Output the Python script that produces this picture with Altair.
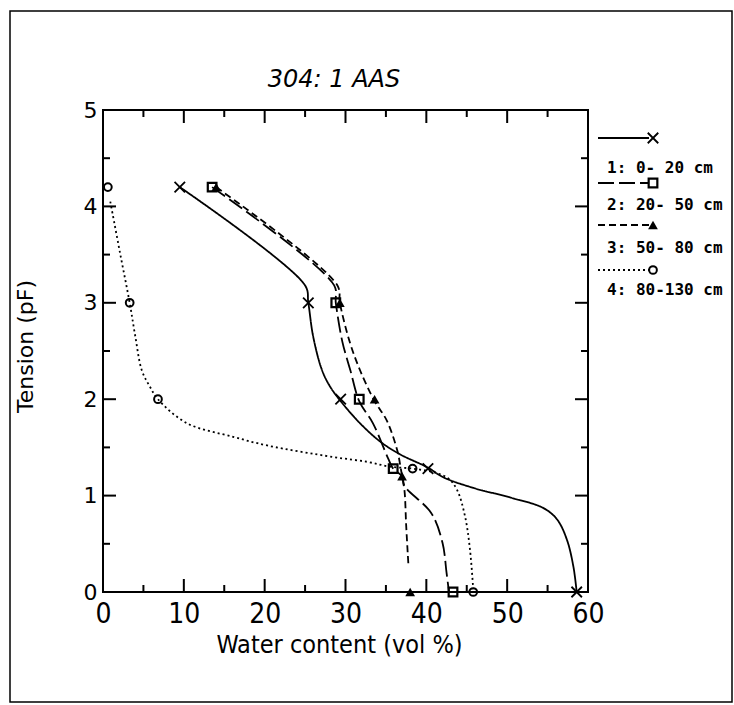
import altair as alt
import pandas as pd

# ---------------- data (water content vol %, tension pF) ----------------
title_text = ["304: 1 AAS"]
labels = ["1:  0- 20 cm", "2: 20- 50 cm", "3: 50- 80 cm", "4: 80-130 cm"]

# measured points
p1_x = [9.5, 25.4, 29.4, 40.2, 58.6]
p1_y = [4.2, 3.0, 2.0, 1.28, 0.0]
p2_x = [13.5, 28.8, 31.7, 35.9, 43.3]
p2_y = [4.2, 3.0, 2.0, 1.28, 0.0]
p3_x = [14.0, 29.3, 33.6, 37.0, 38.0]
p3_y = [4.2, 3.0, 2.0, 1.2, 0.0]
p4_x = [0.6, 3.3, 6.8, 38.3, 45.8]
p4_y = [4.2, 3.0, 2.0, 1.28, 0.0]

# fitted curves
c1_x = [9.5, 25.0, 25.4, 26.0, 27.1, 28.1, 29.4, 31.8, 34.3, 36.7, 40.2, 42.1, 45.8, 50.4, 54.5, 56.2, 57.4, 58.2, 58.6]
c1_y = [4.2, 3.18, 3.0, 2.65, 2.3, 2.13, 1.98, 1.75, 1.56, 1.43, 1.29, 1.19, 1.08, 0.98, 0.87, 0.75, 0.54, 0.26, 0.0]
c2_x = [13.5, 28.6, 28.8, 29.6, 30.6, 31.7, 33.4, 35.3, 35.9, 37.0, 37.3, 40.6, 42.0, 42.5, 42.8]
c2_y = [4.2, 3.18, 3.0, 2.6, 2.3, 1.98, 1.75, 1.38, 1.28, 1.2, 1.1, 0.82, 0.51, 0.2, 0.0]
c3_x = [14.0, 29.0, 29.3, 30.5, 31.8, 33.6, 35.1, 36.4, 36.8, 37.0, 37.3, 37.5, 37.7, 37.8]
c3_y = [4.2, 3.18, 3.0, 2.6, 2.3, 1.98, 1.78, 1.47, 1.3, 1.2, 1.05, 0.7, 0.4, 0.26]
c4_x = [0.9, 2.1, 3.3, 4.0, 4.8, 5.8, 6.8, 10.4, 16.1, 20.3, 28.5, 32.7, 35.5, 38.3, 41.0, 42.7, 43.8, 44.8, 45.4, 45.8]
c4_y = [4.05, 3.52, 3.0, 2.65, 2.3, 2.13, 2.0, 1.75, 1.61, 1.52, 1.4, 1.35, 1.3, 1.28, 1.24, 1.18, 1.06, 0.78, 0.44, 0.03]

x_major = [0, 10, 20, 30, 40, 50, 60]
x_minor = [5, 15, 25, 35, 45, 55]
y_major = [0, 1, 2, 3, 4, 5]
y_minor = [0.5, 1.5, 2.5, 3.5, 4.5]

# ---------------- styles ----------------
W, H = 485, 482
narrow = "Liberation Sans Narrow, DejaVu Sans Condensed, Liberation Sans, sans-serif"
xs = alt.Scale(domain=[0, 60], nice=False, zero=False)
ys = alt.Scale(domain=[0, 5], nice=False, zero=False)

x_axis = alt.Axis(values=x_major, ticks=False, domain=False, grid=False, labelFlush=False,
                  labelFont=narrow, labelFontSize=28, labelPadding=8, labelColor="black",
                  title="Water content (vol %)", titleFont=narrow, titleFontSize=25,
                  titleFontWeight="normal", titleColor="black",
                  titleBaseline="alphabetic", titleY=60, titleX=236)
y_axis = alt.Axis(values=y_major, ticks=False, domain=False, grid=False, labelFlush=False,
                  labelFont="DejaVu Sans", labelFontSize=22, labelPadding=6, labelColor="black",
                  title="Tension (pF)", titleFont="DejaVu Sans", titleFontSize=22,
                  titleFontWeight="normal", titleColor="black",
                  titleBaseline="alphabetic", titleX=-71, titleY=236, titleAngle=-90)


def X():
    return alt.X("wc:Q", scale=xs, axis=x_axis, title="Water content (vol %)")


def Y():
    return alt.Y("pf:Q", scale=ys, axis=y_axis, title="Tension (pF)")


dashes = [[1, 0], [16, 5], [7, 4], [2, 3]]
curves = [(c1_x, c1_y), (c2_x, c2_y), (c3_x, c3_y), (c4_x, c4_y)]
points = [(p1_x, p1_y), (p2_x, p2_y), (p3_x, p3_y), (p4_x, p4_y)]
xshape = "M-1,-1L1,1M-1,1L1,-1"
markers = [
    dict(shape=xshape, filled=False, size=110, strokeWidth=1.8),
    dict(shape="square", filled=False, size=75, strokeWidth=2.2),
    dict(shape="triangle-up", filled=True, size=95, strokeWidth=1),
    dict(shape="circle", filled=False, size=60, strokeWidth=2),
]

layers = []

# tick marks (inward, all four sides)
for vals, ln in ((x_major, 13), (x_minor, 7)):
    d = pd.DataFrame({"wc": vals})
    layers.append(alt.Chart(d).mark_rule(color="black", strokeWidth=2).encode(
        x=X(), y=alt.value(H), y2=alt.value(H - ln)))
    layers.append(alt.Chart(d).mark_rule(color="black", strokeWidth=2).encode(
        x=X(), y=alt.value(0), y2=alt.value(ln)))
for vals, ln in ((y_major, 13), (y_minor, 7)):
    d = pd.DataFrame({"pf": vals})
    layers.append(alt.Chart(d).mark_rule(color="black", strokeWidth=2).encode(
        y=Y(), x=alt.value(0), x2=alt.value(ln)))
    layers.append(alt.Chart(d).mark_rule(color="black", strokeWidth=2).encode(
        y=Y(), x=alt.value(W), x2=alt.value(W - ln)))

# curves and points
for i in range(4):
    cx, cy = curves[i]
    df = pd.DataFrame({"wc": cx, "pf": cy, "i": list(range(len(cx)))})
    layers.append(alt.Chart(df).mark_line(
        interpolate="catmull-rom", color="black", strokeWidth=1.8, strokeDash=dashes[i]
    ).encode(x=X(), y=Y(), order="i:Q"))
    px, py = points[i]
    dp = pd.DataFrame({"wc": px, "pf": py})
    m = markers[i]
    layers.append(alt.Chart(dp).mark_point(
        shape=m["shape"], filled=m["filled"], size=m["size"], strokeWidth=m["strokeWidth"],
        color="black", opacity=1
    ).encode(x=X(), y=Y()))

# legend (outside right)
leg_line_y = [28, 73, 115, 160]
leg_text_y = [58, 95, 138, 180]
for i in range(4):
    one = pd.DataFrame({"label": [labels[i]]})
    layers.append(alt.Chart(one).mark_rule(color="black", strokeWidth=1.8, strokeDash=dashes[i]).encode(
        x=alt.value(495), x2=alt.value(546), y=alt.value(leg_line_y[i])))
    m = markers[i]
    layers.append(alt.Chart(one).mark_point(
        shape=m["shape"], filled=m["filled"], size=m["size"], strokeWidth=m["strokeWidth"],
        color="black", opacity=1).encode(x=alt.value(550), y=alt.value(leg_line_y[i])))
    layers.append(alt.Chart(one).mark_text(
        font="DejaVu Sans Mono", fontSize=16, fontWeight="bold", align="left",
        baseline="middle", color="black").encode(
        x=alt.value(504), y=alt.value(leg_text_y[i]), text="label:N"))

# chart title (as a text mark above the plot)
layers.append(alt.Chart(pd.DataFrame({"t": title_text})).mark_text(
    font="DejaVu Sans", fontSize=24, fontStyle="italic", align="center",
    baseline="alphabetic", color="black").encode(
    x=alt.value(231), y=alt.value(-23), text="t:N"))

# outer frame
frame = alt.Chart(pd.DataFrame({"a": [0]})).mark_rect(
    filled=False, stroke="black", strokeWidth=1.5).encode(
    x=alt.value(-93), x2=alt.value(629), y=alt.value(-99), y2=alt.value(592))
layers.append(frame)

chart = alt.layer(*layers).properties(
    width=W, height=H,
    autosize=alt.AutoSizeParams(type="none"),
    padding={"left": 103, "top": 110, "right": 146, "bottom": 113},
    background="white",
).configure_view(stroke="black", strokeWidth=2)

chart.save("out.html", embed_options={"renderer": "svg", "actions": False})
